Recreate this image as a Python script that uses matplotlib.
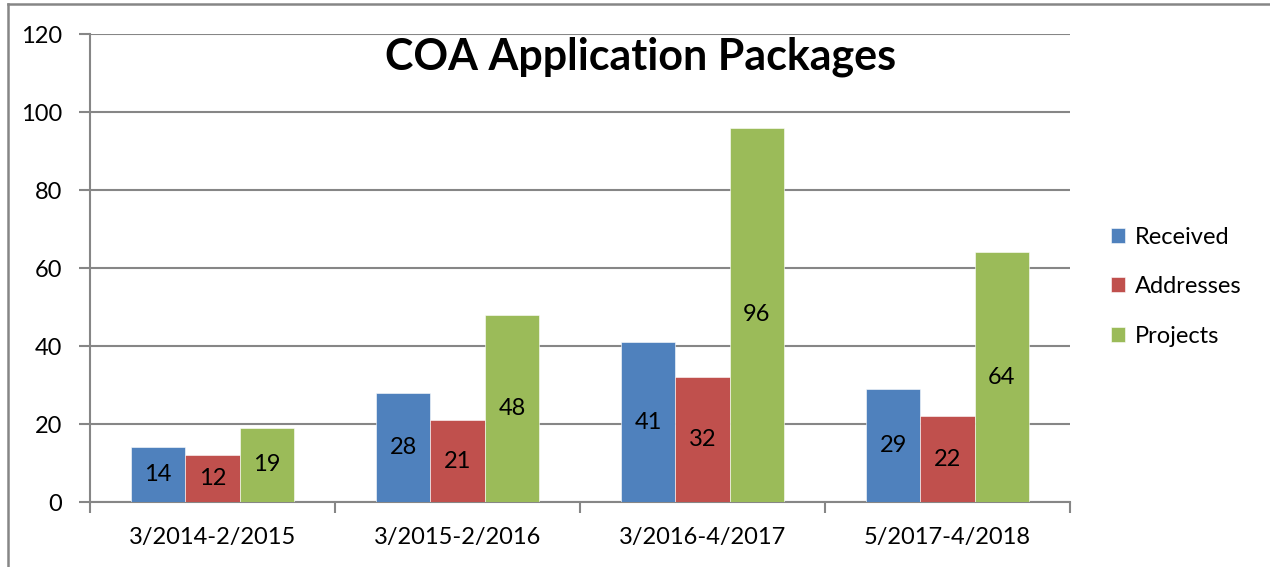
import numpy as np
import matplotlib.pyplot as plt
from matplotlib.lines import Line2D

periods = ['3/2014-2/2015', '3/2015-2/2016', '3/2016-4/2017', '5/2017-4/2018']
received = [14, 28, 41, 29]
addresses = [12, 21, 32, 22]
projects = [19, 48, 96, 64]

series = [('Received', received, '#4F81BD'),
          ('Addresses', addresses, '#C0504D'),
          ('Projects', projects, '#9BBB59')]

plt.rcParams['font.family'] = ['Lato', 'DejaVu Sans']
grey = '#868686'

fig = plt.figure(figsize=(12.7, 5.67), dpi=100)
ax = fig.add_axes([0.0709, 0.1146, 0.7716, 0.8254])

x = np.arange(len(periods)) + 0.5
w = 0.222
for i, (name, vals, col) in enumerate(series):
    bars = ax.bar(x + (i - 1) * w, vals, w, color=col, label=name,
                  edgecolor='white', linewidth=0.4, zorder=3)
    ax.bar_label(bars, labels=[str(v) for v in vals], label_type='center',
                 fontsize=17, color='black')

ax.set_xlim(0, len(periods))
ax.set_ylim(0, 120)
ax.set_yticks(range(0, 121, 20))
ax.set_xticks(x)
ax.set_xticklabels(periods)
ax.set_xticks(np.arange(len(periods) + 1), minor=True)
ax.tick_params(axis='x', which='major', length=0, labelsize=17, pad=18)
ax.tick_params(axis='x', which='minor', length=8, color=grey, width=1.5)
ax.tick_params(axis='y', length=8, color=grey, width=1.5, labelsize=17, pad=12)
ax.grid(axis='y', color=grey, linewidth=1.5, zorder=0)
ax.set_axisbelow(True)
for s in ['top', 'right']:
    ax.spines[s].set_visible(False)
for s in ['left', 'bottom']:
    ax.spines[s].set_color(grey)
    ax.spines[s].set_linewidth(1.5)

fig.text(0.504, 0.9, 'COA Application Packages', ha='center', va='center',
         fontsize=31, fontweight='bold')

ax.legend(loc='center left', bbox_to_anchor=(1.02, 0.46), frameon=False,
          fontsize=17, handlelength=0.6, handleheight=0.6, handletextpad=0.4,
          labelspacing=1.2)

# outer chart frame (cropped)
fig.add_artist(Line2D([8 / 1270, 1], [1 - 4 / 567, 1 - 4 / 567], color=grey,
                      linewidth=1.8, transform=fig.transFigure))
fig.add_artist(Line2D([8 / 1270, 8 / 1270], [0, 1 - 4 / 567], color=grey,
                      linewidth=1.8, transform=fig.transFigure))

fig.savefig('out.png', dpi=100)
